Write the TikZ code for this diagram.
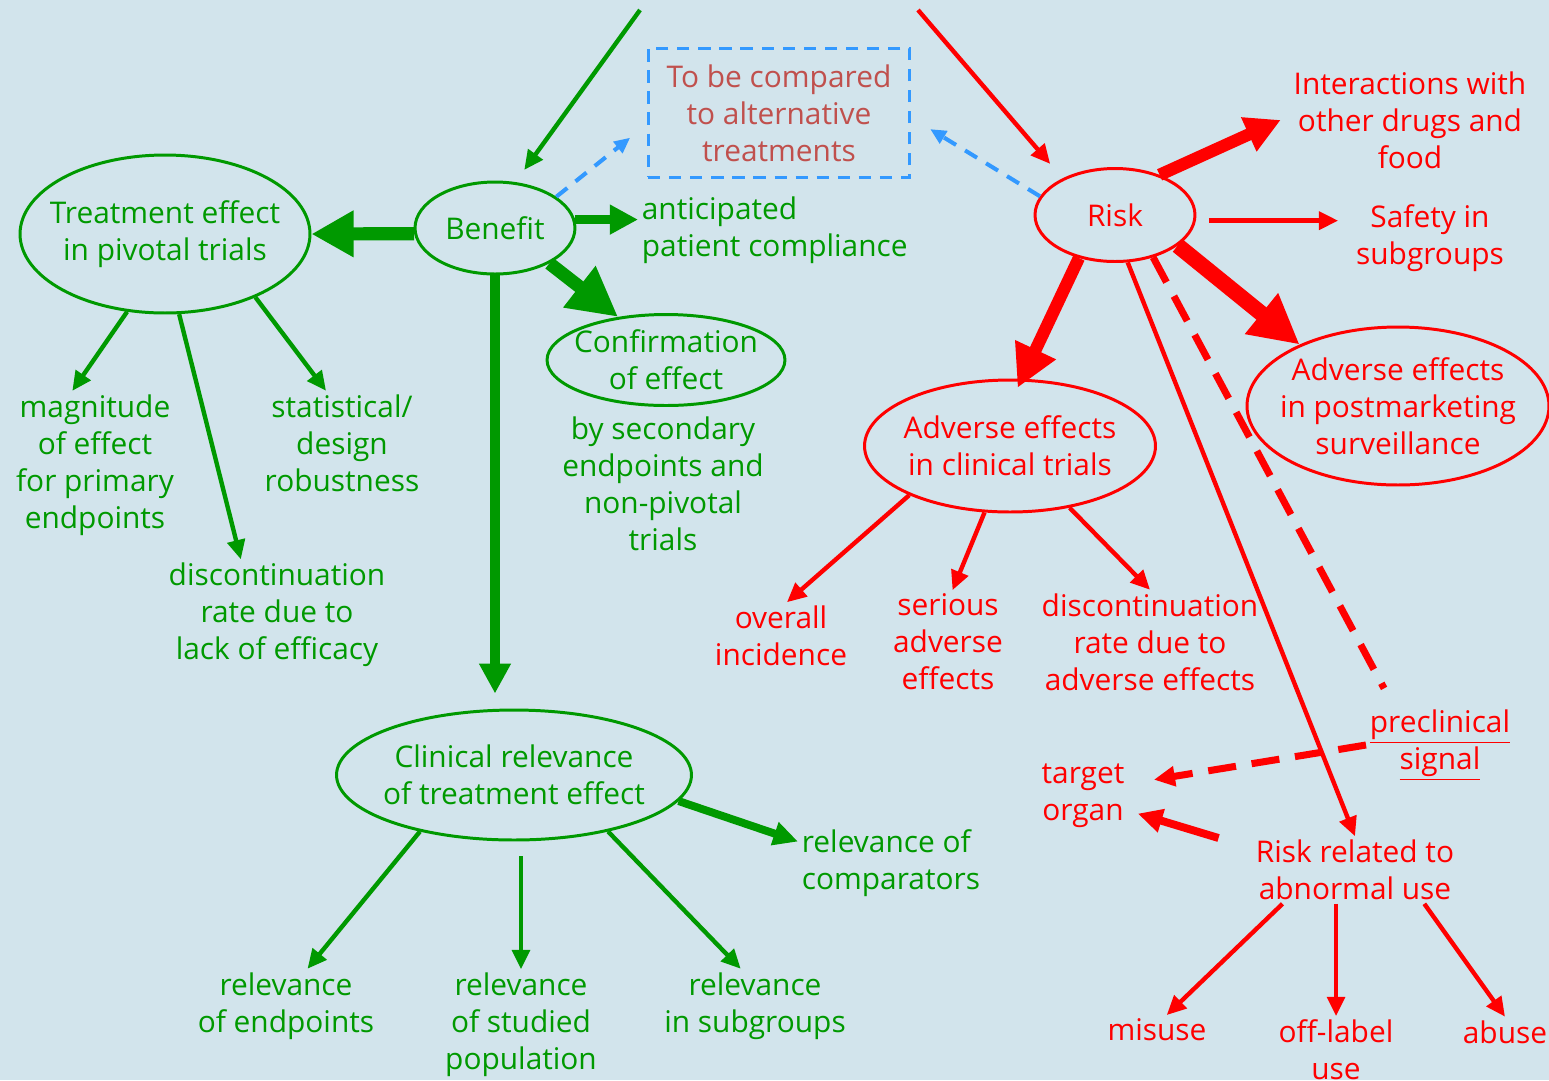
\documentclass[tikz,border=0pt]{standalone}
\usepackage{fontspec}
\setmainfont{Open Sans}
\usetikzlibrary{shapes.geometric,arrows.meta}
\definecolor{bgblue}{RGB}{210,228,236}
\definecolor{myGreen}{RGB}{0,153,0}
\definecolor{myRed}{RGB}{255,0,0}
\definecolor{myBlue}{RGB}{51,153,255}
\definecolor{boxText}{RGB}{192,80,77}
\newcommand{\lbl}{\fontsize{17}{21}\selectfont}

\begin{document}
\begin{tikzpicture}[x=0.02cm,y=-0.02cm,
    gtxt/.style={text=myGreen, align=center, font=\lbl, inner sep=2pt},
    rtxt/.style={text=myRed, align=center, font=\lbl, inner sep=2pt},
    goval/.style={ellipse, draw=myGreen, line width=1.7pt, inner sep=0pt},
    roval/.style={ellipse, draw=myRed, line width=1.7pt, inner sep=0pt},
    garr/.style={myGreen, line width=2.5pt, -{Triangle[length=11pt,width=10pt]}},
    rarr/.style={myRed, line width=2.5pt, -{Triangle[length=11pt,width=10pt]}},
    barr/.style={myBlue, line width=2.3pt, dash pattern=on 8pt off 6pt, -{Triangle[length=9pt,width=8pt]}},
    rdash/.style={myRed, line width=4pt, dash pattern=on 16pt off 9pt}]

    \fill[bgblue] (0,0) rectangle (1549,1080);
    \useasboundingbox (0,0) rectangle (1549,1080);

    \coordinate (gtop) at (640,10);
    \coordinate (rtop) at (918,10);

    \node[draw=myBlue, line width=1.7pt, dash pattern=on 7pt off 5pt, minimum width=5.24cm, minimum height=2.58cm,
        text=boxText, align=center, font=\lbl] (cmp) at (779,113) {To be compared\\to alternative\\treatments};

    \node[goval, minimum width=5.8cm, minimum height=3.16cm] (treat) at (165,234) {};
    \node[gtxt] (treatlbl) at (treat) {Treatment effect\\in pivotal trials};
    \node[goval, minimum width=3.2cm, minimum height=1.84cm] (benefit) at (495,228) {};
    \node[gtxt] (benefitlbl) at (benefit) {Benefit};
    \node[goval, minimum width=4.76cm, minimum height=1.82cm] (confirm) at (666,360) {};
    \node[gtxt] (confirmlbl) at (confirm) {Confirmation\\of effect};
    \node[goval, minimum width=7.1cm, minimum height=2.6cm] (clinical) at (514,775) {};
    \node[gtxt] (clinicallbl) at (clinical) {Clinical relevance\\of treatment effect};

    \node[gtxt, anchor=west, align=left] (antic) at (638,230) {anticipated\\patient compliance};
    \node[gtxt] (bysec) at (663,484) {by secondary\\endpoints and\\non-pivotal\\trials};
    \node[gtxt] (magn) at (95,465) {magnitude\\of effect\\for primary\\endpoints};
    \node[gtxt] (discl) at (277,615) {discontinuation\\rate due to\\lack of efficacy};
    \node[gtxt] (stat) at (342,443) {statistical/\\design\\robustness};
    \node[gtxt, anchor=west, align=left] (compar) at (798,863) {relevance of\\comparators};
    \node[gtxt] (rend) at (286,1006) {relevance\\of endpoints};
    \node[gtxt] (rpop) at (521,1025) {relevance\\of studied\\population};
    \node[gtxt] (rsub) at (755,1006) {relevance\\in subgroups};

    \node[roval, minimum width=3.2cm, minimum height=1.86cm] (risk) at (1115,215) {};
    \node[rtxt] (risklbl) at (risk) {Risk};
    \node[roval, minimum width=5.82cm, minimum height=2.64cm] (aect) at (1010,446) {};
    \node[rtxt] (aectlbl) at (aect) {Adverse effects\\in clinical trials};
    \node[roval, minimum width=6.04cm, minimum height=3.16cm] (aepm) at (1398,406) {};
    \node[rtxt] (aepmlbl) at (aepm) {Adverse effects\\in postmarketing\\surveillance};

    \node[rtxt] (inter) at (1410,120) {Interactions with\\other drugs and\\food};
    \node[rtxt] (safety) at (1430,238) {Safety in\\subgroups};
    \node[rtxt] (overall) at (781,636) {overall\\incidence};
    \node[rtxt] (serious) at (948,642) {serious\\adverse\\effects};
    \node[rtxt] (discae) at (1150,642) {discontinuation\\rate due to\\adverse effects};
    \node[rtxt] (precl) at (1440,745) {\underline{preclinical}\\\underline{signal}};
    \node[rtxt] (target) at (1083,796) {target\\organ};
    \node[rtxt] (rabn) at (1355,870) {Risk related to\\abnormal use};
    \node[rtxt] (misuse) at (1157,1030) {misuse};
    \node[rtxt] (offl) at (1336,1050) {off-label\\use};
    \node[rtxt] (abuse) at (1505,1032) {abuse};

    \draw[garr, shorten >=0.3cm] (gtop) -- (benefit.66);
    \draw[myGreen, line width=7.5pt, -{Triangle[length=24pt,width=25pt]}] (benefit.184) -- (treat.east);
    \draw[myGreen, line width=5pt, -{Triangle[length=16pt,width=16pt]}] (benefit.6) -- (benefit.6 -| antic.west);
    \draw[myGreen, line width=7.5pt, -{Triangle[length=28pt,width=28pt]}] (benefit.327) -- (confirm.138);
    \draw[myGreen, line width=5.5pt, -{Triangle[length=17pt,width=17pt]}, shorten >=0.3cm] (benefit.south) -- (benefit.south |- clinical.north);
    \draw[garr] (treat.244) -- (magn.107);
    \draw[garr] (treat.280) -- (discl.123);
    \draw[garr] (treat.325) -- (stat.107);
    \draw[myGreen, line width=4.5pt, -{Triangle[length=14pt,width=13pt]}] (clinical.351) -- (compar.167);
    \draw[garr] (clinical.211) -- (rend.60);
    \draw[garr, shorten <=0.3cm] (rpop.north |- clinical.south) -- (rpop.north);
    \draw[garr] (clinical.329) -- (rsub.111);

    \draw[rarr, shorten >=0.38cm] (rtop) -- (risk.145);
    \draw[myRed, line width=7pt, -{Triangle[length=20pt,width=20pt]}, shorten >=0.2cm] (risk.42) -- (inter.178);
    \draw[rarr, line width=2.8pt, shorten <=0.26cm, shorten >=0.28cm] (risk.356) -- (risk.356 -| safety.west);
    \draw[myRed, line width=9pt, -{Triangle[length=28pt,width=28pt]}] (risk.334) -- (aepm.148);
    \draw[myRed, line width=7pt, -{Triangle[length=24pt,width=24pt]}, shorten >=-0.2cm] (risk.230) -- (aect.80);
    \draw[rarr] (risk.285) -- (rabn.north);
    \draw[rdash, shorten >=0.4cm] (risk.312) -- (precl.140);
    \draw[rdash, -{Triangle[length=12pt,width=11pt]}, shorten >=0.52cm] (precl.west) -- (target.15);
    \draw[myRed, line width=4.5pt, -{Triangle[length=14pt,width=13pt]}, shorten <=0.7cm, shorten >=0.2cm] (rabn.168) -- (target.342);
    \draw[rarr] (rabn.205) -- (misuse.57);
    \draw[rarr] (offl.north |- rabn.south) -- (offl.north);
    \draw[rarr] (rabn.334) -- (abuse.north);
    \draw[rarr] (aect.206) -- (overall.80);
    \draw[rarr] (aect.249) -- (serious.85);
    \draw[rarr] (aect.314) -- (discae.north);

    \draw[barr, shorten >=0.42cm] (benefit.27) -- (cmp.185);
    \draw[barr, shorten >=0.44cm] (risk.166) -- (cmp.358);
\end{tikzpicture}
\end{document}
